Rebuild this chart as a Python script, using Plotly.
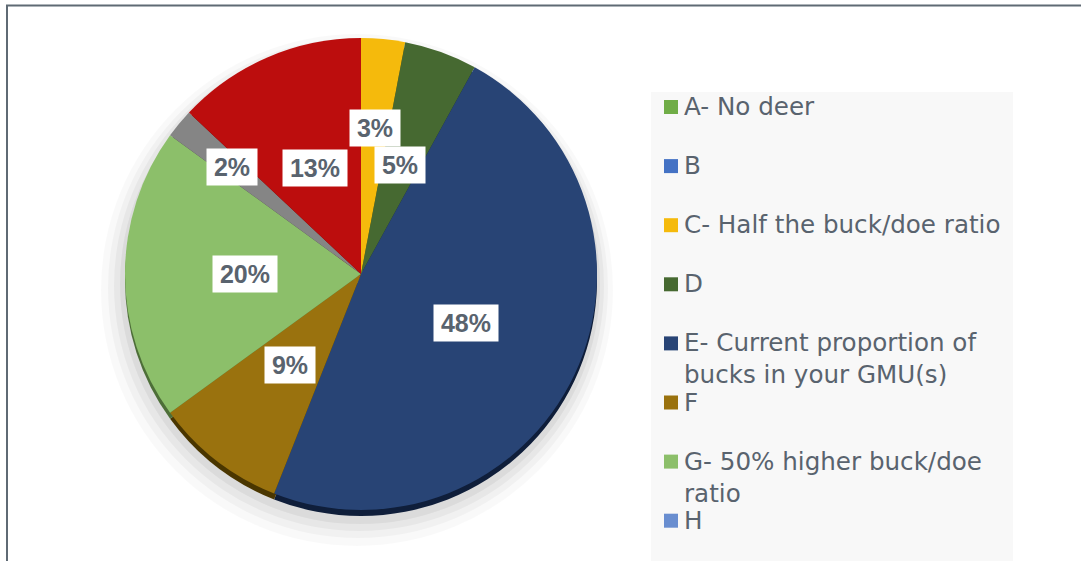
import math
import plotly.graph_objects as go

# ---------------- data ----------------
labels = ["A- No deer", "B", "C- Half the buck/doe ratio", "D",
          "E- Current proportion of bucks in your GMU(s)", "F",
          "G- 50% higher buck/doe ratio", "H", "I", "J"]
legend_text = ["A- No deer", "B", "C- Half the buck/doe ratio", "D",
               "E- Current proportion of<br>bucks in your GMU(s)", "F",
               "G- 50% higher buck/doe<br>ratio", "H", "I", "J"]
values = [0, 0, 3, 5, 48, 9, 20, 0, 2, 13]
colors = ["#70AD47", "#4472C4", "#F5BA0C", "#466931", "#284475",
          "#9A720E", "#8CBF6A", "#698ED0", "#858585", "#BC0D0D"]
rim_colors = ["#3d6127", "#24406e", "#8a6600", "#203616", "#0f1e3a",
              "#4a3600", "#4d6e38", "#3d5a8a", "#444444", "#5e0505"]

# ---------------- geometry (pixels) ----------------
W, H = 1081, 561
cx, cy, R = 361, 274, 236
TXT = "#59636e"


def px(x):
    return x / W


def py(y):
    return 1 - y / H


fig = go.Figure()

# 3D rim (same data, darker colours, shifted down)
rim = 6
fig.add_trace(go.Pie(
    labels=labels, values=values, sort=False, direction="clockwise", rotation=0,
    marker=dict(colors=rim_colors, line=dict(width=0)), textinfo="none",
    hoverinfo="skip", showlegend=False,
    domain=dict(x=[px(cx - R), px(cx + R)], y=[py(cy + rim + R), py(cy + rim - R)]),
))
# main pie
fig.add_trace(go.Pie(
    labels=labels, values=values, sort=False, direction="clockwise", rotation=0,
    marker=dict(colors=colors, line=dict(width=0)), textinfo="none",
    hovertemplate="%{label}: %{percent}<extra></extra>", showlegend=False,
    domain=dict(x=[px(cx - R), px(cx + R)], y=[py(cy + R), py(cy - R)]),
))

shapes = []
# soft shadow under the pie
for grow, alpha, dx, dy in [(20, 0.025, -4, 16), (14, 0.03, -3, 14), (9, 0.04, -2, 12), (4, 0.05, -1, 10)]:
    r = R + grow
    sx, sy = cx + dx, cy + dy
    shapes.append(dict(type="circle", xref="paper", yref="paper", layer="below",
                       x0=px(sx - r), x1=px(sx + r), y0=py(sy + r), y1=py(sy - r),
                       fillcolor=f"rgba(0,0,0,{alpha})", line=dict(width=0)))
# legend background
shapes.append(dict(type="rect", xref="paper", yref="paper", layer="below",
                   x0=px(651), x1=px(1013), y0=0, y1=py(92),
                   fillcolor="#F8F8F8", line=dict(width=0)))
# frame lines
shapes.append(dict(type="line", xref="paper", yref="paper", x0=px(6), x1=1,
                   y0=py(5.5), y1=py(5.5), line=dict(color="#5F6A74", width=2)))
shapes.append(dict(type="line", xref="paper", yref="paper", x0=px(7), x1=px(7),
                   y0=py(5), y1=0, line=dict(color="#5F6A74", width=2)))

annotations = []
# percentage labels (white boxes) placed along each slice's mid angle
total = sum(values)
cum = 0
for v in values:
    if v > 0:
        mid = (cum + v / 2) / total * 2 * math.pi
        f = 0.49 if v >= 5 else (0.62 if v >= 3 else 0.71)
        lx = cx + R * f * math.sin(mid)
        ly = cy - R * f * math.cos(mid)
        t = f"{v}%"
        tw = round(25 * (0.556 * (len(t) - 1) + 0.889)) + 6
        annotations.append(dict(
            x=px(lx), y=py(ly), xref="paper", yref="paper", showarrow=False,
            text=f"<b>{t}</b>", font=dict(family="Liberation Sans", size=25, color=TXT),
            bgcolor="white", borderpad=4, width=tw, align="center",
            xanchor="center", yanchor="middle"))
    cum += v

# legend (first rows that fit on the slide)
row0, step = 107, 59.1
for i, (lt, c) in enumerate(zip(legend_text, colors)):
    yc = row0 + i * step
    if yc > H - 20:
        break
    shapes.append(dict(type="rect", xref="paper", yref="paper",
                       x0=px(664), x1=px(678), y0=py(yc + 7), y1=py(yc - 7),
                       fillcolor=c, line=dict(width=0)))
    annotations.append(dict(
        x=px(682), y=py(yc - 17), xref="paper", yref="paper", showarrow=False,
        text=lt, font=dict(family="DejaVu Sans", size=24.6, color=TXT),
        xanchor="left", yanchor="top", align="left"))

fig.update_layout(
    width=W, height=H, margin=dict(l=0, r=0, t=0, b=0),
    paper_bgcolor="white", plot_bgcolor="white",
    shapes=shapes, annotations=annotations, showlegend=False,
)

fig.write_html("out.html", config={"displayModeBar": False},
               post_script="document.body.style.margin='0';")
